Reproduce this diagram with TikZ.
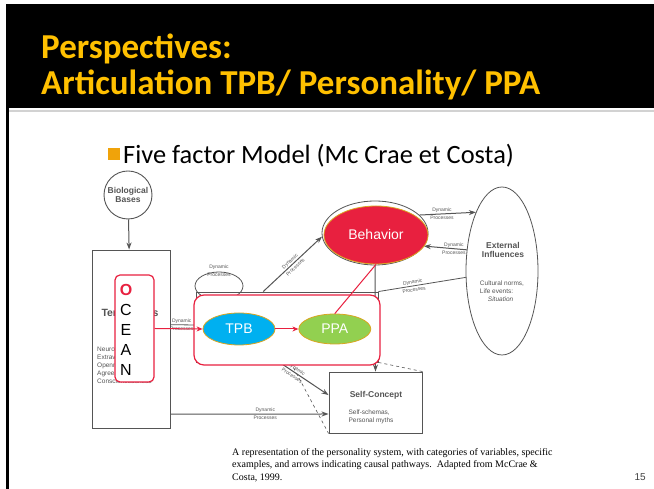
\documentclass[tikz,border=0pt]{standalone}
\usepackage{fontspec}
\setmainfont{Liberation Serif}
\setsansfont{Liberation Sans}
\newfontfamily\slidefont{Carlito}
\usetikzlibrary{shapes.geometric, arrows.meta, positioning, calc}
\definecolor{titleyellow}{HTML}{FFC000}
\definecolor{bulletorange}{HTML}{F0A30A}
\definecolor{oceanred}{HTML}{E8203F}
\definecolor{tpbblue}{HTML}{00B0F0}
\definecolor{ppagreen}{HTML}{92D050}
\definecolor{ringgold}{HTML}{D9A520}
\definecolor{scan}{HTML}{555555}
\tikzset{
  scanbox/.style={rectangle, draw=scan, line width=0.9pt},
  scanlabel/.style={font=\fontsize{5}{8}\selectfont\sffamily, text=scan, align=center, inner sep=0pt},
  scanhead/.style={font=\fontsize{8.5}{9.5}\selectfont\sffamily\bfseries, text=scan, align=center, inner sep=0pt},
  scannote/.style={font=\fontsize{6.5}{8}\selectfont\sffamily, text=scan, align=left, inner sep=0pt},
  flow/.style={-{Stealth[length=7pt, width=5pt]}, draw=scan, line width=1pt},
  flowline/.style={draw=scan, line width=0.8pt},
  hintline/.style={draw=scan, dashed, line width=0.6pt},
  blob/.style={ellipse, draw=ringgold, line width=0.8pt, text=white, font=\fontsize{14}{14}\selectfont\sffamily, inner sep=0pt},
  redarrow/.style={-{Stealth[length=6pt, width=5pt]}, draw=oceanred, line width=1pt},
  letter/.style={font=\fontsize{16}{16}\selectfont\sffamily, minimum height=19.5pt, inner sep=0pt},
  slidetitle/.style={anchor=base west, inner sep=0pt, text=titleyellow, font=\fontsize{35}{35}\selectfont\slidefont\bfseries},
}

\begin{document}
\begin{tikzpicture}[x=1pt, y=1pt]
\useasboundingbox (0,0) rectangle (654,489);
% slide frame
\fill[black] (6,0) rectangle (654,485);
\fill[white] (9,0) rectangle (654,381);
\draw[gray!35, line width=1.5pt] (9,378) -- (654,378);
\node[slidetitle] (title1) at (41,430) {Perspectives:};
\node[slidetitle] (title2) at (41,394) {Articulation TPB/ Personality/ PPA};
\node[fill=bulletorange, minimum size=12pt, inner sep=0pt] (bullet) at (114,335) {};
\node[anchor=base west, inner sep=0pt, font=\fontsize{26.4}{26.4}\selectfont\slidefont] (model) at (123,325) {Five factor Model (Mc Crae et Costa)};

% scanned figure
\node[circle, draw=scan, line width=0.9pt, minimum size=48pt, scanhead] (bio) at (128,294) {Biological\\Bases};
\node[scanbox, minimum width=78pt, minimum height=178pt] (basic) at (131,150) {};
\node[scanhead, font=\fontsize{10.5}{12}\selectfont\sffamily\bfseries] (tend) at (130,182) {Basic\\Tendencies};
\node[scannote, anchor=north west] (traits) at (97,142) {Neuroticism,\\Extraversion,\\Openness,\\Agreeableness,\\Conscientiousness};
\node[scanbox, minimum width=182pt, minimum height=70pt] (charbox) at (287,162) {};
\node[ellipse, draw=scan, line width=0.8pt, minimum width=48pt, minimum height=28pt] (loop) at (219,203) {};
\node[scanlabel] (looplbl) at (219,218) {Dynamic\\Processes};
\node[ellipse, draw=scan, line width=0.8pt, minimum width=72pt, minimum height=168pt] (ext) at (502,218) {};
\node[scanhead] (exthead) at (503,239) {External\\Influences};
\node[scannote] (extnote) at (502,198) {Cultural norms,\\Life events:\\\hspace{8pt}\textit{Situation}};
\node[scanbox, minimum width=93pt, minimum height=61pt] (self) at (375.5,86.5) {};
\node[scanhead] (selfhead) at (376,94) {Self-Concept};
\node[scannote] (selfnote) at (371,72) {Self-schemas,\\Personal myths};
\node[ellipse, draw=scan, line width=0.8pt, minimum width=106pt, minimum height=64pt] (behring) at (375,256) {};

\draw[flow] (bio) -- (basic);
\draw[flow] (behring.22) -- node[scanlabel, pos=0.4]{Dynamic\\Processes} (ext.114);
\draw[flow] (ext.149) -- node[scanlabel, pos=0.3]{Dynamic\\Processes} (behring.-15);
\draw[flowline] (ext.190) -- node[scanlabel, sloped, pos=0.6]{Dynamic\\Processes} (charbox.north east);
\draw[flow] ($(charbox.north west)!0.37!(charbox.north east)$) -- node[scanlabel, sloped]{Dynamic\\Processes} (behring.184);
\draw[flow] (behring.south) -- (self.north);
\draw[flowline] ($(basic.north east)!0.42!(basic.south east)$) -- node[scanlabel, pos=0.45]{Dynamic\\Processes} (charbox.west |- 0,164);
\draw[flow] ($(charbox.south west)!0.46!(charbox.south east)$) -- node[scanlabel, sloped, pos=0.3]{Dynamic\\Processes} ($(self.north west)!0.38!(self.south west)$);
\draw[hintline] ($(charbox.south west)!0.52!(charbox.south east)$) -- (self.south west);
\draw[hintline] (charbox.south east) -- (self.north east);
\draw[flow] ($(basic.north east)!0.92!(basic.south east)$) -- node[scanlabel, pos=0.6]{Dynamic\\Processes} (self.west |- 0,75);

% overlay: OCEAN, TPB, PPA, Behavior
\node[draw=oceanred, line width=1.2pt, fill=white, rounded corners=10pt, minimum width=186pt, minimum height=70pt] (redbox) at (287,159) {};
\node[draw=oceanred, line width=1.2pt, fill=white, rounded corners=5pt, minimum width=39pt, minimum height=107pt] (ocean) at (134.5,160.5) {};
\node[letter, text=oceanred, font=\fontsize{16}{16}\selectfont\sffamily\bfseries] (o) at (126,199) {O};
\node[letter, below=0pt of o] (c) {C};
\node[letter, below=0pt of c] (e) {E};
\node[letter, below=0pt of e] (a) {A};
\node[letter, below=0pt of a] (n) {N};
\node[blob, fill=tpbblue, minimum width=72pt, minimum height=32pt] (tpb) at (239,160) {TPB};
\node[blob, fill=ppagreen, minimum width=72pt, minimum height=30pt, right=23pt of tpb] (ppa) {PPA};
\node[blob, fill=oceanred, minimum width=104pt, minimum height=58pt] (behavior) at (376,254) {Behavior};
\draw[redarrow] (ocean.east) -- (tpb.west);
\draw[redarrow] (tpb) -- (ppa);
\draw[oceanred, line width=1pt] (ppa.north) -- (behavior.south);

% caption and page number
\node[anchor=north west, inner sep=0pt, align=left, font=\fontsize{10}{12.5}\selectfont\rmfamily] (caption) at (232,41) {A representation of the personality system, with categories of variables, specific\\examples, and arrows indicating causal pathways.\ \ Adapted from McCrae \&\\Costa, 1999.};
\node[anchor=base east, inner sep=0pt, font=\fontsize{10}{10}\selectfont\sffamily, text=black!75] (page) at (646,8) {15};
\end{tikzpicture}
\end{document}
